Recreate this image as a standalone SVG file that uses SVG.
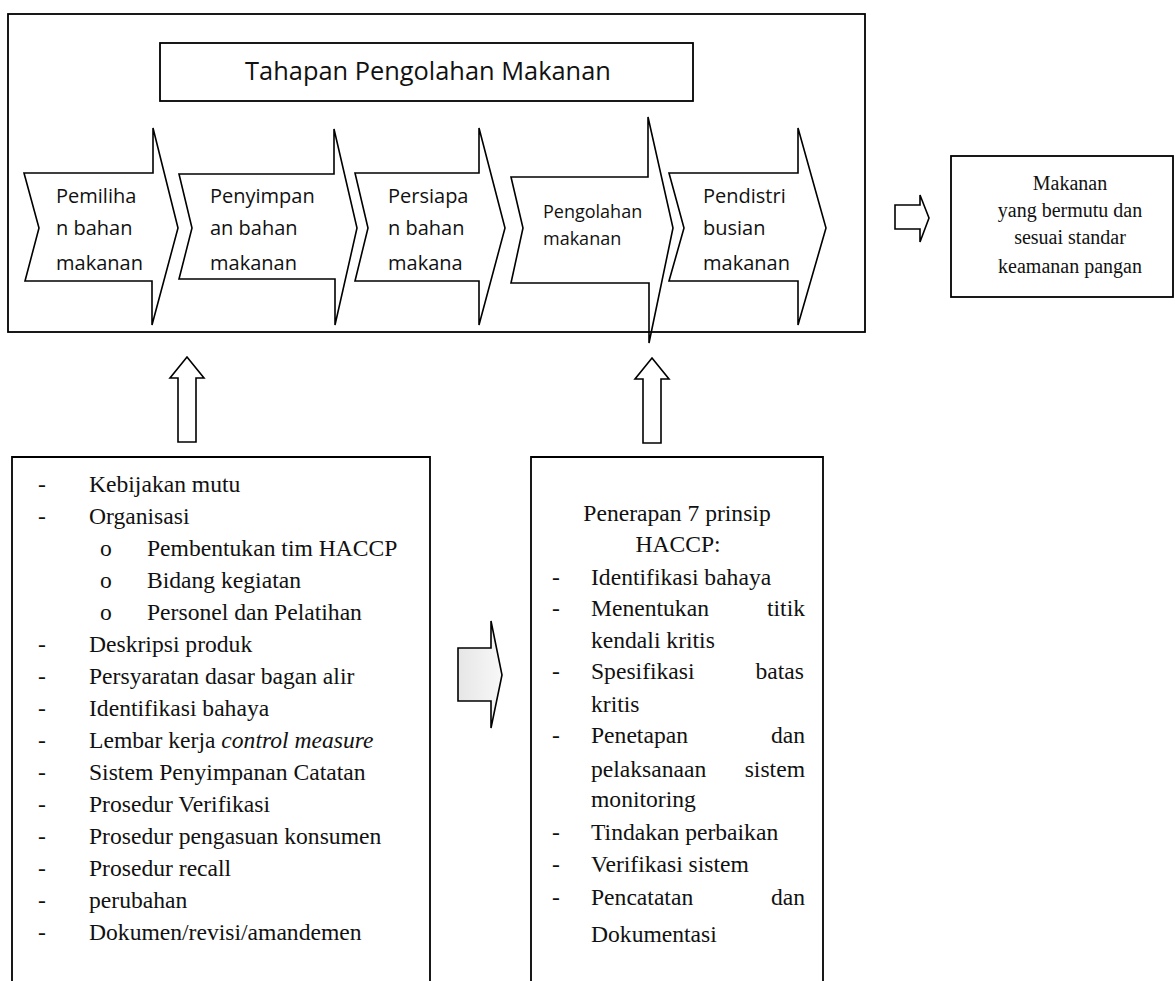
<svg xmlns="http://www.w3.org/2000/svg" width="1175" height="981" viewBox="0 0 1175 981">
<defs>
<style>
.ln{fill:none;stroke:#000;stroke-width:1.6}
.bx{fill:none;stroke:#000;stroke-width:1.8}
.blk{fill:#fff;stroke:#000;stroke-width:1.6}
.cal{font-family:"Open Sans","Liberation Sans",sans-serif;fill:#111}
.c20{font-size:20px}
.c18{font-size:18px}
.tnr{font-family:"Liberation Serif","Times New Roman",serif;fill:#111;font-size:23.6px}
.tnr20{font-family:"Liberation Serif","Times New Roman",serif;fill:#111;font-size:20px}
.end{text-anchor:end}
.mid{text-anchor:middle}
</style>
<linearGradient id="gArrow" x1="0" y1="0" x2="1" y2="0">
<stop offset="0" stop-color="#e6e6e6"/>
<stop offset="1" stop-color="#f8f8f8"/>
</linearGradient>
</defs>
<rect width="1175" height="981" fill="#fff"/>

<g id="frame-tahapan">
<rect class="bx" x="8" y="14" width="857" height="318"/>
</g>
<g id="title">
<rect class="bx" x="160" y="43" width="533" height="58"/>
<text class="cal mid" x="428" y="80" font-size="25.4">Tahapan Pengolahan Makanan</text>
</g>

<g id="step1">
<path class="ln" d="M24,173 L153,173 L153,128 L178,228 L152,325 L152,281 L25,281 L39,228 Z"/>
<text class="cal c20" x="56" y="203">Pemiliha</text>
<text class="cal c20" x="56" y="235">n bahan</text>
<text class="cal c20" x="56" y="270">makanan</text>
</g>
<g id="step2">
<path class="ln" d="M179,174 L334,174 L334,129 L357,228 L335,325 L335,279 L179,279 L192,228 Z"/>
<text class="cal c20" x="210" y="203">Penyimpan</text>
<text class="cal c20" x="210" y="235">an bahan</text>
<text class="cal c20" x="210" y="270">makanan</text>
</g>
<g id="step3">
<path class="ln" d="M355,173 L479,173 L479,128 L505,228 L479,325 L479,281 L355,281 L368,228 Z"/>
<text class="cal c20" x="388" y="203">Persiapa</text>
<text class="cal c20" x="388" y="235">n bahan</text>
<text class="cal c20" x="388" y="270">makana</text>
</g>
<g id="step4">
<path class="ln" d="M511,177 L648,177 L648,117 L673,228 L649,343 L649,283 L511,283 L523,228 Z"/>
<text class="cal c18" x="543" y="218">Pengolahan</text>
<text class="cal c18" x="543" y="245">makanan</text>
</g>
<g id="step5">
<path class="ln" d="M669,173 L798,173 L798,128 L826,228 L798,325 L798,281 L669,281 L684,228 Z"/>
<text class="cal c20" x="703" y="203">Pendistri</text>
<text class="cal c20" x="703" y="235">busian</text>
<text class="cal c20" x="703" y="270">makanan</text>
</g>

<g id="result">
<rect class="bx" x="951" y="156" width="222" height="141"/>
<text class="tnr20 mid" x="1070" y="190">Makanan</text>
<text class="tnr20 mid" x="1070" y="217">yang bermutu dan</text>
<text class="tnr20 mid" x="1070" y="244">sesuai standar</text>
<text class="tnr20 mid" x="1070" y="273">keamanan pangan</text>
</g>

<g id="prerequisites">
<path class="bx" d="M12,981 V457 H430 V981"/>
<g class="tnr">
<text x="38" y="492">-</text><text x="89" y="492">Kebijakan mutu</text>
<text x="38" y="524">-</text><text x="89" y="524">Organisasi</text>
<text x="100" y="556">o</text><text x="147" y="556">Pembentukan tim HACCP</text>
<text x="100" y="588">o</text><text x="147" y="588">Bidang kegiatan</text>
<text x="100" y="620">o</text><text x="147" y="620">Personel dan Pelatihan</text>
<text x="38" y="652">-</text><text x="89" y="652">Deskripsi produk</text>
<text x="38" y="684">-</text><text x="89" y="684">Persyaratan dasar bagan  alir</text>
<text x="38" y="716">-</text><text x="89" y="716">Identifikasi bahaya</text>
<text x="38" y="748">-</text><text x="89" y="748">Lembar kerja <tspan font-style="italic">control measure</tspan></text>
<text x="38" y="780">-</text><text x="89" y="780">Sistem Penyimpanan Catatan</text>
<text x="38" y="812">-</text><text x="89" y="812">Prosedur Verifikasi</text>
<text x="38" y="844">-</text><text x="89" y="844">Prosedur pengasuan konsumen</text>
<text x="38" y="876">-</text><text x="89" y="876">Prosedur recall</text>
<text x="38" y="908">-</text><text x="89" y="908">perubahan</text>
<text x="38" y="940">-</text><text x="89" y="940">Dokumen/revisi/amandemen</text>
</g>
</g>

<g id="haccp">
<path class="bx" d="M531,981 V457 H823 V981"/>
<g class="tnr">
<text class="mid" x="677" y="521">Penerapan 7 prinsip</text>
<text class="mid" x="678" y="552">HACCP:</text>
<text x="552" y="585">-</text><text x="591" y="585">Identifikasi bahaya</text>
<text x="552" y="616">-</text><text x="591" y="616">Menentukan</text><text class="end" x="805" y="616">titik</text>
<text x="591" y="648">kendali kritis</text>
<text x="552" y="679">-</text><text x="591" y="679">Spesifikasi</text><text class="end" x="804" y="679">batas</text>
<text x="591" y="712">kritis</text>
<text x="552" y="743">-</text><text x="591" y="743">Penetapan</text><text class="end" x="805" y="743">dan</text>
<text x="591" y="777">pelaksanaan</text><text class="end" x="805" y="777">sistem</text>
<text x="591" y="807">monitoring</text>
<text x="552" y="840">-</text><text x="591" y="840">Tindakan perbaikan</text>
<text x="552" y="872">-</text><text x="591" y="872">Verifikasi sistem</text>
<text x="552" y="905">-</text><text x="591" y="905">Pencatatan</text><text class="end" x="805" y="905">dan</text>
<text x="591" y="942">Dokumentasi</text>
</g>
</g>

<g id="connectors">
<path id="arrow-result" class="blk" d="M895,205 L920,205 L920,195 L929,218 L920,242 L920,229 L895,229 Z"/>
<path id="arrow-up-left" class="blk" d="M187,357 L204,378 L196,378 L196,442 L178,442 L178,378 L170,378 Z"/>
<path id="arrow-up-right" class="blk" d="M652,358 L669,379 L661,379 L661,443 L643,443 L643,379 L635,379 Z"/>
<path id="arrow-mid" d="M458,648 L491,648 L491,621 L502,675 L491,728 L491,701 L458,701 Z" fill="url(#gArrow)" stroke="#000" stroke-width="1.6"/>
</g>
</svg>
